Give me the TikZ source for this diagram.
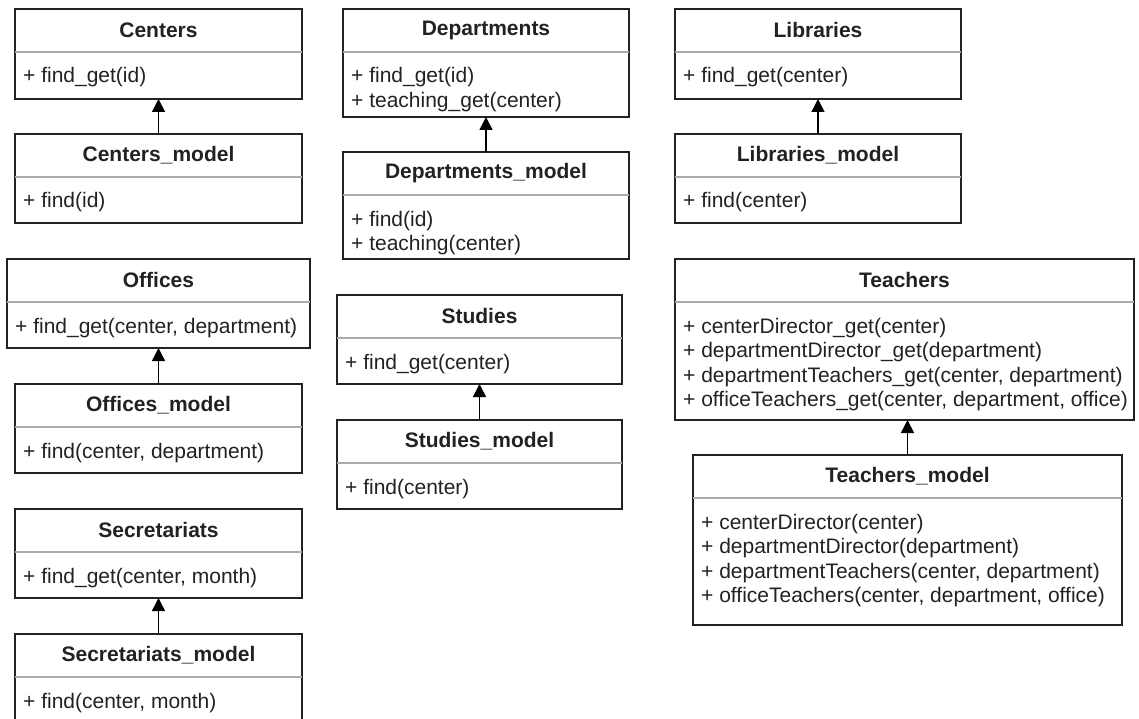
\documentclass[tikz,border=0pt]{standalone}
\usepackage{fontspec}
\setmainfont{Liberation Sans}
\usetikzlibrary{arrows.meta}
\definecolor{ink}{RGB}{34,34,34}
\definecolor{divgray}{RGB}{170,170,170}
\tikzset{
  classbox/.style={draw=ink, line width=1.6pt, fill=white, inner sep=0pt, outer sep=0pt},
  divider/.style={draw=divgray, line width=1.2pt},
  titletext/.style={font=\fontsize{21}{24}\selectfont\bfseries, text=ink, inner sep=0pt},
  methodtext/.style={font=\fontsize{21}{24}\selectfont, text=ink, inner sep=0pt},
  inherit/.style={draw=black, line width=1.6pt, -{Triangle[length=13pt,width=13pt]}}
}
\newcommand\umlclass[7]{%
  \node[classbox, minimum width=#4pt, minimum height=#5pt, anchor=north west] (#1) at (#2,#3) {};
  \draw[divider] ([yshift=-43pt]#1.north west) -- ([yshift=-43pt]#1.north east);
  \node[titletext] (#1-title) at ([yshift=-21pt]#1.north) {#6};
  \foreach \t [count=\i from 0] in {#7} {
    \node[methodtext, anchor=base west] (#1-m\i) at ([xshift=8pt, yshift={-74pt-24.6pt*\i}]#1.north west) {\t};
  }%
}
\begin{document}
\begin{tikzpicture}[x=1pt, y=-1pt]
\useasboundingbox (0,0) rectangle (1139,719);
\clip (0,0) rectangle (1139,719);
% left column
\umlclass{centers}{15}{9}{287}{90}{Centers}{{+ find\_get(id)}}
\umlclass{centersm}{15}{134}{287}{89}{Centers\_model}{{+ find(id)}}
\umlclass{offices}{7}{259}{303}{89}{Offices}{{+ find\_get(center, department)}}
\umlclass{officesm}{15}{384}{287}{89}{Offices\_model}{{+ find(center, department)}}
\umlclass{secret}{15}{509}{287}{89}{Secretariats}{{+ find\_get(center, month)}}
\umlclass{secretm}{15}{634}{287}{89}{Secretariats\_model}{{+ find(center, month)}}
% middle column
\umlclass{depts}{343}{9}{286}{108}{Departments}{{+ find\_get(id)},{+ teaching\_get(center)}}
\umlclass{deptsm}{343}{152}{286}{107}{Departments\_model}{{+ find(id)},{+ teaching(center)}}
\umlclass{studies}{337}{295}{285}{89}{Studies}{{+ find\_get(center)}}
\umlclass{studiesm}{337}{420}{285}{89}{Studies\_model}{{+ find(center)}}
% right column
\umlclass{libs}{675}{9}{286}{90}{Libraries}{{+ find\_get(center)}}
\umlclass{libsm}{675}{134}{286}{89}{Libraries\_model}{{+ find(center)}}
\umlclass{teachers}{675}{259}{459}{161}{Teachers}{{+ centerDirector\_get(center)},{+ departmentDirector\_get(department)},{+ departmentTeachers\_get(center, department)},{+ officeTeachers\_get(center, department, office)}}
\umlclass{teachersm}{693}{455}{429}{170}{Teachers\_model}{{+ centerDirector(center)},{+ departmentDirector(department)},{+ departmentTeachers(center, department)},{+ officeTeachers(center, department, office)}}
% inheritance arrows
\draw[inherit] (centersm.north) -- (centers.south);
\draw[inherit] (officesm.north) -- (offices.south);
\draw[inherit] (secretm.north) -- (secret.south);
\draw[inherit] (deptsm.north) -- (deptsm.north |- depts.south);
\draw[inherit] (studiesm.north) -- (studies.south);
\draw[inherit] (libsm.north) -- (libs.south);
\draw[inherit] (teachersm.north) -- (teachersm.north |- teachers.south);
\end{tikzpicture}
\end{document}
